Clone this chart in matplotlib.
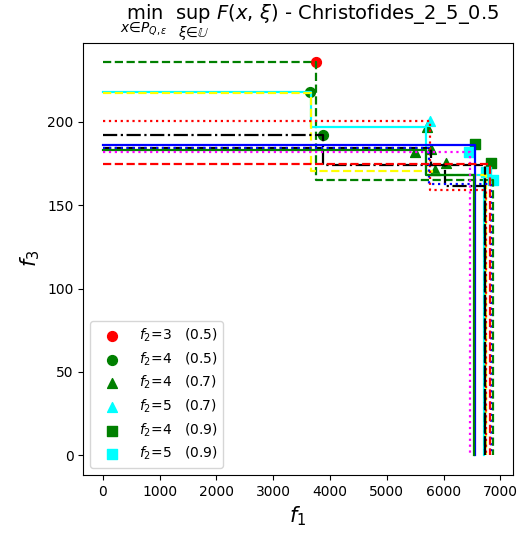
import matplotlib
matplotlib.use("Agg")
import matplotlib.pyplot as plt

# ---- staircase fronts (f1 corner points, f3 corner points) ----
gd_f1 = [3752, 6877]
gd_f3 = [235.7, 165.1]
cs_f1 = [3660, 5683, 6714]
cs_f3 = [218.0, 196.8, 168.1]
yd_f1 = [3665, 5790, 6754]
yd_f3 = [217.3, 170.4, 168.4]
rdot_f1 = [5770, 6740]
rdot_f3 = [200.2, 159.0]
kdd_f1 = [3875, 6032, 6737]
kdd_f3 = [191.8, 174.1, 161.5]
bs_f1 = [6557]
bs_f3 = [186.1]
kd_f1 = [5780, 6737]
kd_f3 = [184.1, 174.1]
bdot_f1 = [5740, 6830]
bdot_f3 = [184.1, 162.6]
gs_f1 = [5683, 6528]
gs_f3 = [183.1, 168.3]
mdot_f1 = [6458]
mdot_f3 = [182.1]
rd_f1 = [6818]
rd_f3 = [174.7]

# ---- marker series ----
labels = [r"$f_2$=3   (0.5)", r"$f_2$=4   (0.5)", r"$f_2$=4   (0.7)",
          r"$f_2$=5   (0.7)", r"$f_2$=4   (0.9)", r"$f_2$=5   (0.9)"]
s1_f1 = [3752]; s1_f3 = [235.7]
s2_f1 = [3648, 3875]; s2_f3 = [218.0, 191.9]
s3_f1 = [5500, 5715, 5780, 5850, 6040]; s3_f3 = [182.1, 196.8, 183.5, 171.0, 175.1]
s4_f1 = [5755]; s4_f3 = [200.2]
s5_f1 = [6557, 6829]; s5_f3 = [186.7, 175.1]
s6_f1 = [6441, 6740, 6877]; s6_f3 = [182.1, 170.0, 165.0]


def stair(f1, f3):
    xs, ys = [0], [f3[0]]
    for i in range(len(f1)):
        xs.append(f1[i]); ys.append(f3[i])
        nxt = f3[i + 1] if i + 1 < len(f1) else 0
        xs.append(f1[i]); ys.append(nxt)
    return xs, ys


fig = plt.figure(figsize=(5.17, 5.33), dpi=100)
ax = fig.add_axes([0.161, 0.109, 0.831, 0.811])

lines = [
    (gd_f1, gd_f3, "green", "--"),
    (cs_f1, cs_f3, "cyan", "-"),
    (yd_f1, yd_f3, "yellow", "--"),
    (rdot_f1, rdot_f3, "red", ":"),
    (kdd_f1, kdd_f3, "black", "-."),
    (bs_f1, bs_f3, "blue", "-"),
    (kd_f1, kd_f3, "black", "--"),
    (bdot_f1, bdot_f3, "blue", ":"),
    (gs_f1, gs_f3, "green", "-"),
    (mdot_f1, mdot_f3, "magenta", ":"),
    (rd_f1, rd_f3, "red", "--"),
]
for f1, f3, c, ls in lines:
    xs, ys = stair(f1, f3)
    ax.plot(xs, ys, color=c, linestyle=ls, linewidth=1.6)

series = [
    (s1_f1, s1_f3, "red", "o"),
    (s2_f1, s2_f3, "green", "o"),
    (s3_f1, s3_f3, "green", "^"),
    (s4_f1, s4_f3, "cyan", "^"),
    (s5_f1, s5_f3, "green", "s"),
    (s6_f1, s6_f3, "cyan", "s"),
]
for (f1, f3, c, m), lab in zip(series, labels):
    ax.scatter(f1, f3, color=c, marker=m, s=50, label=lab, zorder=1.5)

ax.set_xlim(-344, 7221)
ax.set_ylim(-11.8, 247.5)
ax.set_xticks([0, 1000, 2000, 3000, 4000, 5000, 6000, 7000])
ax.set_yticks([0, 50, 100, 150, 200])
ax.set_xlabel(r"$f_1$", fontsize=15)
ax.set_ylabel(r"$f_3$", fontsize=15)
ax.set_title(r"$\min_{x\in P_{Q,\varepsilon}}\ \sup_{\xi\in\mathbb{U}}\ F(x,\,\xi)$ - Christofides_2_5_0.5",
             fontsize=14, x=0.526)
ax.legend(loc="lower left", fontsize=10, handlelength=2.3, labelspacing=0.45)

fig.savefig("out.png", dpi=100)
